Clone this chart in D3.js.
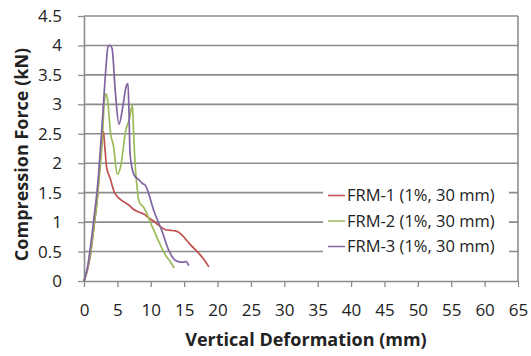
<!DOCTYPE html>
<html>
<head>
<meta charset="utf-8">
<script src="https://cdn.jsdelivr.net/npm/d3@7"></script>
<style>
  body { margin: 0; background: #fff; }
  svg text { font-family: "Open Sans", sans-serif; fill: #222; }
</style>
</head>
<body>
<div id="chart"></div>
<script>
// tick values
const xTicks = d3.range(0, 70, 5);
const yTicks = d3.range(0, 4.75, 0.5);

// series: deformation (mm) / force (kN)
const frm1_x = [0, 0.5, 1, 1.5, 2, 2.5, 2.9, 3.1, 3.4, 3.9, 4.5, 5.5, 6.7, 7.5, 8.0, 9.2, 9.5, 10.5, 11.0, 12.0, 12.2, 13.0, 13.7, 14.7, 15.3, 16.0, 17.2, 18.0, 18.7];
const frm1_y = [0, 0.18, 0.47, 0.92, 1.41, 2.15, 2.54, 2.3, 1.92, 1.75, 1.52, 1.38, 1.29, 1.21, 1.18, 1.12, 1.09, 1.01, 0.96, 0.88, 0.87, 0.86, 0.85, 0.78, 0.7, 0.61, 0.47, 0.36, 0.24];

const frm2_x = [0, 0.5, 1, 1.5, 2, 2.75, 3.05, 3.25, 3.5, 4.0, 4.4, 5.0, 5.5, 6.24, 6.8, 7.24, 7.4, 7.6, 7.9, 8.24, 9.0, 10.0, 11.0, 12.2, 12.9, 13.5];
const frm2_y = [0, 0.2, 0.5, 0.93, 1.41, 2.43, 3.05, 3.18, 3.1, 2.49, 2.3, 1.81, 1.95, 2.55, 2.75, 2.99, 2.6, 2.09, 1.65, 1.35, 1.24, 0.98, 0.72, 0.44, 0.33, 0.22];

const frm3_x = [0, 0.5, 1, 1.5, 2, 2.75, 3.25, 3.6, 3.9, 4.2, 4.7, 5.24, 5.8, 6.3, 6.59, 6.75, 6.9, 7.5, 8.2, 8.7, 9.2, 10.5, 11.7, 12.7, 13.7, 14.7, 15.3, 15.7];
const frm3_y = [0, 0.22, 0.61, 1.08, 1.58, 2.72, 3.57, 3.98, 4.0, 3.95, 3.2, 2.66, 2.95, 3.3, 3.35, 2.8, 2.15, 1.8, 1.72, 1.66, 1.62, 1.18, 0.84, 0.52, 0.35, 0.32, 0.33, 0.26];

const seriesNames = ["FRM-1 (1%, 30 mm)", "FRM-2 (1%, 30 mm)", "FRM-3 (1%, 30 mm)"];
const seriesColors = ["#C0504D", "#9BBB59", "#8064A2"];

const W = 531, H = 356;
const margin = { top: 16, right: 13, bottom: 75, left: 84 };
const width = W - margin.left - margin.right,
  height = H - margin.top - margin.bottom;

const svg = d3
  .select("#chart")
  .append("svg")
  .attr("width", W)
  .attr("height", H);

const g = svg.append("g").attr("transform", `translate(${margin.left},${margin.top})`);

const x = d3.scaleLinear().domain([0, 65]).range([0, width]);
const y = d3.scaleLinear().domain([0, 4.5]).range([height, 0]);

// horizontal gridlines
g.append("g")
  .selectAll("line")
  .data(yTicks.filter((d) => d > 0))
  .join("line")
  .attr("x1", 0)
  .attr("x2", width)
  .attr("y1", (d) => y(d))
  .attr("y2", (d) => y(d))
  .attr("stroke", "#8c8c8c")
  .attr("stroke-width", 1.6);

// right border of plot area
g.append("line")
  .attr("x1", width).attr("x2", width)
  .attr("y1", 0).attr("y2", height)
  .attr("stroke", "#8c8c8c")
  .attr("stroke-width", 1.6);

// axes
const xAxis = g
  .append("g")
  .attr("transform", `translate(0,${height})`)
  .call(d3.axisBottom(x).tickValues(xTicks).tickSize(6).tickSizeOuter(0).tickPadding(17));
const yAxis = g
  .append("g")
  .call(d3.axisLeft(y).tickValues(yTicks).tickFormat(d3.format("~g")).tickSize(6).tickSizeOuter(0).tickPadding(16));

[xAxis, yAxis].forEach((a) => {
  a.select(".domain").attr("stroke", "#8c8c8c").attr("stroke-width", 1.6);
  a.selectAll(".tick line").attr("stroke", "#8c8c8c").attr("stroke-width", 1.3);
  a.selectAll(".tick text").style("font-size", "17px").attr("fill", "#222");
});

// series lines
const line = d3
  .line()
  .x((d) => x(d[0]))
  .y((d) => y(d[1]))
  .curve(d3.curveMonotoneX);

const allSeries = [
  d3.zip(frm1_x, frm1_y),
  d3.zip(frm2_x, frm2_y),
  d3.zip(frm3_x, frm3_y),
];

g.append("g")
  .selectAll("path")
  .data(allSeries)
  .join("path")
  .attr("d", (d) => line(d))
  .attr("fill", "none")
  .attr("stroke", (d, i) => seriesColors[i])
  .attr("stroke-width", 1.7);

// legend on white box
const legend = g.append("g").attr("transform", `translate(${239},${160})`);
legend
  .append("rect")
  .attr("x", 0)
  .attr("y", 0)
  .attr("width", 186)
  .attr("height", 86)
  .attr("fill", "#fff");
seriesNames.forEach((name, i) => {
  const yy = 19.5 + i * 25.5;
  legend
    .append("line")
    .attr("x1", 5)
    .attr("x2", 22)
    .attr("y1", yy)
    .attr("y2", yy)
    .attr("stroke", seriesColors[i])
    .attr("stroke-width", 1.5);
  legend
    .append("text")
    .attr("x", 24)
    .attr("y", yy)
    .attr("dy", "0.35em")
    .style("font-size", "16.5px")
    .text(name);
});

// axis titles
svg
  .append("text")
  .attr("x", margin.left + width / 2 + 5)
  .attr("y", 346)
  .attr("text-anchor", "middle")
  .style("font-size", "18px")
  .style("font-weight", "bold")
  .text("Vertical Deformation (mm)");

svg
  .append("text")
  .attr("transform", `translate(28,${margin.top + height / 2 + 6}) rotate(-90)`)
  .attr("text-anchor", "middle")
  .style("font-size", "18px")
  .style("font-weight", "bold")
  .text("Compression Force (kN)");
</script>
</body>
</html>
